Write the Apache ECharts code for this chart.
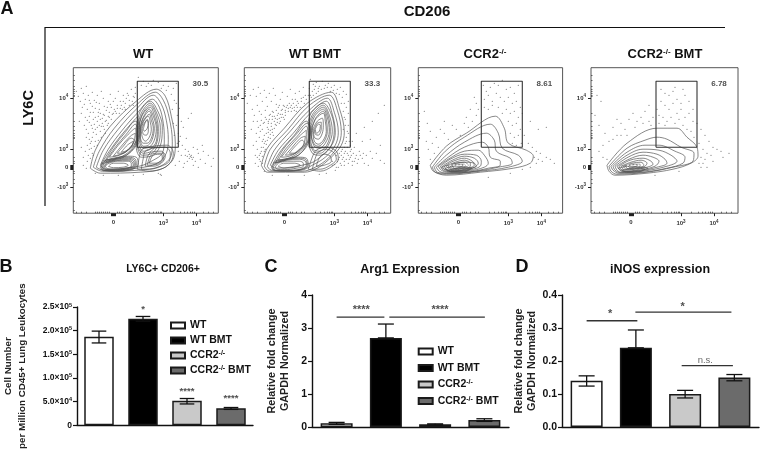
<!DOCTYPE html>
<html>
<head>
<meta charset="utf-8">
<style>html,body{margin:0;padding:0;background:#fff}#main{width:760px;height:451px}</style>
<script src="https://cdn.jsdelivr.net/npm/echarts@6/dist/echarts.min.js"></script>
</head>
<body>
<div id="main"></div>
<script>
// flow panels, all values in display channels (0 = panel left/bottom)
var wtContours = [
  [[17,45],[22,63],[37,87],[63,112],[83,124],[92,117],[98,97],[102,70],[101,57],[90,45],[67,41],[27,40]],
  [[20,46],[26,62],[41,85],[64,109],[82,121],[90,113],[96,95],[99,72],[98,58],[87,47],[65,43],[29,42]],
  [[23,46],[30,63],[45,84],[63,104],[80,118],[88,109],[93,93],[95,74],[93,60],[84,50],[64,45],[30,43]],
  [[27,48],[35,64],[49,83],[63,99],[79,114],[86,106],[90,90],[91,74],[89,60],[80,53],[66,47],[32,44]],
  [[28,49],[36,62],[48,78],[60,92],[64,96],[66,84],[62,68],[52,57],[40,53]],
  [[31,51],[40,66],[52,81],[62,92],[67,84],[64,70],[56,60],[44,55]],
  [[33,53],[42,66],[53,79],[62,89],[64,78],[59,65],[49,57]],
  [[36,56],[45,68],[55,79],[62,85],[63,74],[56,64],[46,58]],
  [[40,57],[48,67],[57,77],[62,80],[60,70],[52,61]],
  [[44,60],[50,67],[58,75],[61,73],[56,65],[49,60]],
  [[48,61],[54,68],[60,72],[58,66],[52,62]],
  [[63,86],[67,102],[77,112],[84,103],[89,87],[88,71],[80,58],[68,56],[63,66]],
  [[64,84],[68,100],[77,110],[83,101],[87,86],[86,72],[79,60],[69,58],[64,68]],
  [[65,84],[69,99],[77,108],[82,100],[85,85],[84,72],[78,62],[70,60],[64,70]],
  [[65,84],[69,98],[77,106],[81,98],[84,85],[83,72],[77,64],[70,62],[65,72]],
  [[66,84],[70,96],[76,104],[80,97],[83,85],[81,73],[76,66],[70,65],[66,74]],
  [[67,85],[70,95],[76,102],[79,95],[81,85],[79,74],[75,68],[70,67],[67,75]],
  [[67,85],[71,94],[76,99],[78,93],[80,85],[78,75],[74,70],[70,70],[67,77]],
  [[68,85],[71,93],[75,97],[77,91],[78,84],[76,76],[72,72],[69,76]],
  [[69,85],[71,90],[74,93],[75,88],[75,82],[73,78],[70,79]],
  [[70,84],[72,91],[74,94],[75,90],[74,85],[71,82]],
  [[27,46],[31,52],[40,55],[55,57],[63,56],[65,49],[58,43.5],[42,42],[30,42.5]],
  [[28,46],[31,52],[41,54.5],[55,56],[62,54],[63,48],[57,43.5],[42,42.2],[30,42.8]],
  [[29,46],[32,51],[42,54],[55,55],[61,53],[62,48],[56,44],[42,42.5],[31,43]],
  [[30,46],[33,50],[42,53],[55,54],[60,52],[61,48],[56,45],[42,43],[32,43.5]],
  [[31,46],[34,50],[43,52.5],[55,53],[59,51],[60,48],[54,45],[41,43.5],[33,44]],
  [[32,47],[36,50],[44,52],[55,52],[58,50],[58,47],[52,45],[40,44],[34,44.5]],
  [[35,47],[40,50],[50,50],[55,48],[50,46],[40,45.5]],
  [[64,44],[66,56],[69,64],[80,67],[94,68],[100,60],[98,52],[90,45],[76,42]],
  [[68,44],[70,55],[72,62],[80,65],[92,66],[97,60],[96,52],[88,47],[76,44]],
  [[72,47],[74,56],[78,61],[88,62],[92,57],[88,50],[80,47]],
  [[74,48],[77,57],[82,60],[90,60],[90,54],[84,49]],
  [[76,50],[80,58],[88,59],[89,54],[82,50]]
];
var wtBmtContours = [
  [[17,48],[23,65],[40,85],[63,110],[87,121],[95,105],[100,81],[97,68],[87,56],[73,45],[60,41],[23,41]],
  [[20,47],[26,64],[43,83],[64,107],[85,118],[93,103],[97,81],[94,68],[84,55],[71,46],[58,42],[25,42]],
  [[23,47],[30,63],[46,82],[65,103],[83,115],[90,101],[94,81],[91,68],[81,56],[68,48],[56,43],[27,43]],
  [[26,48],[34,63],[49,80],[65,99],[82,112],[88,99],[91,81],[88,69],[78,58],[66,50],[32,45]],
  [[29,50],[37,63],[50,78],[62,92],[66,86],[64,70],[54,58],[41,53]],
  [[31,50],[39,64],[52,79],[63,90],[66,82],[62,68],[54,58],[42,54]],
  [[34,53],[42,65],[53,77],[62,87],[64,76],[58,64],[47,56]],
  [[37,56],[45,66],[55,77],[62,83],[62,72],[54,62],[45,57]],
  [[41,58],[48,66],[56,75],[61,77],[59,68],[51,60]],
  [[45,60],[51,67],[58,73],[60,70],[54,63],[49,60]],
  [[64,92],[68,102],[79,110],[87,99],[90,83],[86,66],[76,58],[68,60],[64,74]],
  [[65,90],[69,100],[79,108],[85,98],[88,82],[84,68],[76,60],[69,62],[65,76]],
  [[66,89],[70,99],[79,106],[84,97],[86,82],[83,69],[75,62],[69,64],[66,77]],
  [[67,88],[71,98],[79,104],[83,96],[85,82],[81,70],[75,65],[70,67],[67,78]],
  [[68,87],[72,96],[79,102],[82,94],[83,82],[80,72],[74,67],[70,69],[67,79]],
  [[68,86],[72,95],[79,100],[81,92],[82,82],[79,73],[74,69],[70,72]],
  [[69,85],[73,92],[78,95],[79,88],[78,80],[74,74],[70,76]],
  [[70,84],[73,90],[77,91],[77,85],[74,78],[71,79]],
  [[71,84],[74,89],[76,88],[75,82],[72,80]],
  [[27,46],[31,52],[40,54],[54,56],[62,55],[64,48],[57,43.5],[42,42],[30,42.5]],
  [[28,46],[31,51],[41,53.5],[54,55],[61,54],[63,48],[57,43.8],[42,42.2],[30,42.8]],
  [[29,46],[32,50],[42,53],[55,54],[61,52],[62,48],[56,44],[42,42.5],[31,43]],
  [[31,46],[34,50],[43,52],[55,52],[59,50],[59,47],[52,45],[40,43.5],[33,44]],
  [[34,47],[39,50],[50,50],[56,48],[50,46],[40,45]],
  [[64,44],[68,56],[72,63],[82,66],[92,62],[94,54],[88,47],[76,42]],
  [[68,44],[71,55],[74,61],[82,64],[90,60],[92,54],[86,48],[76,44]],
  [[72,47],[75,55],[80,59],[86,57],[87,52],[80,48]]
];
var ccr2Contours = [
  [[12,48],[28,67],[48,80],[77,97],[86,85],[90,70],[108,63],[115,57],[112,50],[95,45],[62,41],[28,38],[15,42]],
  [[14,46],[27,62],[46,76],[72,89],[80,80],[84,65],[100,58],[104,52],[90,46],[62,42],[28,39],[17,41]],
  [[16,46],[28,58],[46,71],[68,80],[76,73],[78,62],[92,55],[94,50],[80,46],[58,42],[28,40],[19,41]],
  [[18,46],[30,56],[46,66],[64,71],[70,66],[72,56],[82,52],[82,48],[70,45],[50,41],[28,40],[21,42]],
  [[20,47],[30,54],[46,62],[60,63],[66,58],[70,50],[66,46],[50,42],[30,41],[23,43]],
  [[22,47],[32,54],[46,59],[58,58],[63,52],[62,47],[50,43],[32,41.5],[25,43]],
  [[24,47],[34,53],[46,57],[56,55],[60,50],[56,46],[46,43],[32,42],[26,44]],
  [[26,47],[35,52],[46,55],[54,52],[56,48],[50,45],[36,42.5],[28,44]],
  [[28,47],[37,51],[46,53],[52,50],[52,47],[44,44.5],[34,43],[30,45]],
  [[30,47],[38,50],[46,51],[50,48],[44,45],[34,43.5]],
  [[32,47],[40,49],[46,49],[47,47],[40,45],[34,44.5]],
  [[34,47],[40,48.5],[45,48],[42,46],[36,45]],
  [[23,46],[33,49],[46,51],[56,50],[58,47],[48,44],[34,42],[26,44]],
  [[27,45],[38,47],[48,46],[54,45],[46,42.5],[32,41.5]],
  [[30,43],[40,45],[52,44],[46,41.5],[34,41]]
];
var ccr2BmtContours = [
  [[16,48],[36,70],[66,85],[86,85],[96,76],[106,66],[107,57],[100,50],[82,44],[56,40],[24,38],[18,42]],
  [[18,47],[36,65],[54,73],[66,76],[76,74],[90,66],[103,60],[102,52],[82,46],[56,41],[26,39],[20,42]],
  [[20,47],[36,61],[54,68],[68,68],[84,62],[94,56],[92,50],[76,45],[52,41],[28,40],[22,43]],
  [[22,47],[36,58],[52,64],[68,63],[80,58],[86,52],[76,47],[52,42],[30,40.5],[24,43]],
  [[24,47],[37,56],[52,61],[66,59],[74,54],[76,50],[66,46],[48,42],[30,41],[26,43]],
  [[26,47],[38,54],[52,58],[62,56],[68,52],[64,47],[48,43],[32,41.5],[28,44]],
  [[28,47],[39,53],[52,55],[60,52],[62,49],[52,45],[36,42],[30,44]],
  [[30,47],[40,51],[50,53],[56,50],[54,47],[44,44],[34,43]],
  [[32,47],[41,50],[50,51],[53,48],[46,45],[36,43.5]],
  [[34,47],[42,49],[49,49],[49,47],[42,45],[37,44.5]],
  [[37,47],[43,48.5],[47,48],[43,46],[39,45.5]],
  [[27,45],[38,47],[50,46],[57,45],[48,42.5],[34,41.5]],
  [[31,43],[42,45],[54,44],[48,41.5],[36,41]]
];
var wtDots = [
  [3,122],[5,117],[8,125],[7,112],[10,120],[13,127],[12,114],[15,118],[17,110],[9,106],[14,104],[19,121],[21,113],[24,118],[22,105],[26,110],
  [28,122],[30,115],[31,107],[27,100],[33,103],[35,112],[37,119],[38,106],[40,100],[42,115],[44,108],[45,122],[47,112],[49,104],[50,118],[52,110],
  [54,120],[56,113],[58,124],[60,117],[62,126],[16,97],[20,94],[24,92],[12,96],[18,88],[22,84],[26,88],[29,95],[32,92],[35,97],[38,94],
  [15,80],[19,76],[23,79],[27,82],[30,87],[17,70],[21,67],[25,73],[12,62],[15,58],[19,60],[14,52],[10,48],[13,45],[17,55],[8,100],
  [6,92],[11,88],[28,76],[34,88],[41,104],[46,100],[51,106],[36,101],[25,97],[20,101],[16,91],[13,84],[18,72],[16,64],[10,56],[8,66],
  [65,136],[70,132],[75,130],[80,133],[85,131],[90,128],[95,127],[100,125],[103,130],[68,128],[73,127],[78,128],[88,125],[93,123],[98,119],[101,113],
  [103,110],[106,105],[104,98],[108,92],[103,88],[105,80],[110,86],[115,95],[118,100],[113,75],[106,72],[109,68],[112,64],[105,62],[108,58],[115,62],
  [120,66],[125,60],[130,62],[135,58],[140,55],[118,58],[116,55],[119,54],[114,52],[122,52],[111,50],[106,52],[127,54],[132,50],[138,47],[120,48],
  [125,46],[110,46],[102,48],[117,57],[118,56],[116,59],[120,56],[114,57],[112,58],[104,70],[101,78],[100,90],[99,104],[124,64],[129,68],[107,77],
  [85,40],[88,38],[60,38],[45,38],[30,38],[22,40],[87,39],[70,39],
  [22,96],[25,101],[29,90],[31,84],[33,93],[36,96],[39,99],[42,102],[44,105],[48,108],[50,112],[53,115],[56,108],[59,112],[61,116],[24,86],
  [27,94],[30,99],[34,106],[37,109],[40,112],[43,100],[47,105],[52,104],[55,118],[26,104],[23,111],[19,107],[16,113],[11,109],[20,81],[18,65],
  [22,72],[24,68],[20,58],[14,68],[16,74],[13,76],[19,85],[21,89],[17,101],[14,93],[28,87],[32,80],[35,90],[31,98],[62,120],[60,108]
];
var wtBmtDots = [
  [3,110],[6,118],[9,124],[8,104],[12,117],[14,126],[13,108],[16,120],[18,112],[10,98],[15,102],[20,123],[22,116],[25,120],[23,107],[27,112],
  [29,125],[31,118],[32,109],[28,102],[34,106],[36,114],[38,121],[39,108],[41,103],[43,117],[45,110],[46,124],[48,114],[50,106],[51,120],[53,112],
  [55,122],[57,115],[59,126],[61,118],[17,99],[21,96],[25,94],[13,92],[19,90],[23,86],[27,90],[30,97],[33,94],[36,99],[39,96],[16,82],
  [20,78],[24,81],[28,84],[31,89],[18,72],[22,69],[26,75],[13,64],[16,60],[20,62],[15,54],[11,50],[14,47],[18,57],[9,92],[7,84],
  [12,80],[29,78],[35,90],[42,106],[47,102],[52,108],[37,103],[26,99],[21,103],[17,93],[14,86],[19,74],[17,66],[11,58],[9,68],[30,92],
  [33,98],[37,96],[41,98],[44,102],[48,105],[52,102],[56,106],[60,110],[24,90],[28,94],[32,88],[36,92],[40,94],[26,83],[24,76],[21,72],
  [66,134],[69,129],[72,131],[75,127],[78,132],[81,128],[84,130],[87,126],[90,128],[93,124],[96,126],[99,122],[102,119],[70,124],[74,122],[66,118],
  [104,112],[102,106],[104,100],[101,94],[104,88],[103,82],[102,76],[105,72],[101,70],[98,64],[100,60],[95,60],[92,58],[103,66],[106,62],[110,66],
  [112,58],[115,62],[118,55],[122,58],[126,62],[128,55],[132,60],[136,53],[140,50],[110,52],[106,56],[102,54],[98,54],[96,50],[92,46],[108,48],
  [100,48],[104,58],[114,54],[120,50],[124,48],[88,52],[94,54],[97,58],[120,86],[128,92],[134,100],[140,108],[112,80],[118,72],[126,74],[136,68],
  [82,40],[75,39],[60,38],[44,38],[28,38],[20,42],
  [22,94],[25,98],[29,101],[31,95],[34,100],[38,104],[40,107],[43,108],[46,106],[49,110],[51,114],[54,110],[57,112],[59,116],[62,114],[64,118],
  [27,87],[30,85],[33,91],[35,95],[38,99],[41,101],[44,105],[47,108],[50,103],[53,106],[24,84],[22,80],[26,79],[28,81],[20,70],[23,73],
  [19,66],[21,64],[17,62],[15,58],[16,52],[18,50],[13,56],[24,92],[18,84],[15,76],[12,72],[16,88],[20,91],[28,97],[32,103],[35,108],
  [65,125],[68,122],[71,127],[74,125],[77,124],[80,125],[83,126],[86,122],[89,123],[92,120],[95,119],[98,116],[100,110],[67,116],[72,120],[69,118],
  [97,110],[99,102],[100,96],[101,88],[99,84],[102,72],[100,66],[97,62],[99,56],[101,62],[95,56],[93,52],[90,49],[103,60],[105,54],[107,58],
  [109,60],[111,55],[113,50],[116,58],[119,60],[108,52],[104,50],[100,52],[106,68],[108,72],[104,80],[107,64],[94,46],[97,48],[88,48],[91,43]
];
var ccr2Dots = [
  [6,102],[9,90],[12,82],[8,72],[14,70],[18,76],[22,84],[26,80],[30,74],[34,88],[38,84],[42,78],[46,90],[50,86],[54,92],[58,98],
  [16,60],[12,54],[20,66],[10,64],[26,92],[48,96],[52,104],[58,110],[60,104],[56,116],
  [65,128],[68,122],[72,126],[76,130],[80,128],[84,133],[88,124],[92,126],[96,120],[100,128],[66,114],[70,118],[74,112],[78,120],[82,116],[86,112],[90,116],[94,110],[98,112],[102,106],
  [66,106],[70,104],[74,108],[80,106],[84,100],[88,104],[92,100],[96,102],[100,96],[90,92],[94,88],[98,90],[102,84],[92,80],[96,76],[100,78],[103,70],[94,70],[98,68],
  [104,100],[112,92],[120,84],[128,86],[106,78],[110,70],[114,66],[118,62],[122,60],[116,56],[120,54],[124,52],[128,56],[132,54],[136,50],[118,50],[112,46],
  [70,36],[92,40],[104,44]
];
var ccr2BmtDots = [
  [6,118],[10,112],[4,98],[8,88],[14,80],[18,72],[12,68],[22,86],[26,94],[30,90],[34,84],[38,94],[42,100],[46,92],[50,96],[54,102],
  [58,108],[44,86],[30,78],[22,74],[8,62],[12,56],[16,54],[58,92],[62,96],[60,88],[52,90],[26,78],[36,78],
  [70,124],[74,120],[78,118],[82,122],[86,114],[90,110],[94,118],[98,112],[70,112],[74,108],[78,104],[82,110],[86,100],[90,104],[94,96],[98,100],
  [102,92],[68,98],[72,96],[76,92],[80,96],[84,90],[88,94],[92,88],[96,84],[100,82],[103,76],[68,90],[74,88],[102,104],[66,104],[84,126],[92,124],
  [106,90],[110,84],[114,78],[118,72],[122,66],[108,70],[112,64],[116,60],[120,58],[126,64],[130,62],[110,56],[114,54],[108,50],[110,46],[112,50],[116,46],[122,52],[132,56],[138,60],
  [64,38],[88,42]
];
// white ridge of the densest contour
var peakStreaks = [[[34,48],[52,48]], [[35,48],[52,48]], [[31,48],[50,48]], [[36,48],[54,48]]];
var flowPercents = ['30.5', '33.3', '8.61', '6.78'];
var gateBoxes = [[64,105,66,132], [65,106,66,132], [63,104,66,132], [65,106,66,132]];
var flowXTickLabels = {40:'{a|0}', 90:'{a|10}{s|3}', 123:'{a|10}{s|4}'};
var flowYTickLabels = {26:'{a|-10}{s|3}', 46:'{a|0}', 64:'{a|10}{s|3}', 115:'{a|10}{s|4}'};
var flowXMajor = [38,39,40,41,42,90,123];
var flowYMajor = [26,44,45,46,47,48,64,115];
var flowXMinor = [3,8,13,22,24,26,28,30,32,34,36,44,46,48,52,57,60,71,76,80,83,85,87,88,100,107,111,114,117,119,121,130,135,140];
var flowYMinor = [3,12,30,34,40,42,50,52,56,75,76,78,80,83,87,92,100,117,118,120,122,124,127,133,138];

// bar panels
var groups = ['WT', 'WT BMT', 'CCR2-/-', 'CCR2-/- BMT'];
var cellValues = [187000, 225000, 51700, 35800];
var cellLow = [174000, 220000, 45000, 33500];
var cellHigh = [199000, 230000, 56500, 37500];
var cellTicks = {0:'{a|0}', 50000:'{a|5.0×10}{s|4}', 100000:'{a|1.0×10}{s|5}', 150000:'{a|1.5×10}{s|5}', 200000:'{a|2.0×10}{s|5}', 250000:'{a|2.5×10}{s|5}'};
var cellStars = [[1,246000,'*'], [2,72000,'****'], [3,56500,'****']];
var argValues = [0.11, 2.7, 0.08, 0.21];
var argLow = [0.08, 2.7, 0.065, 0.17];
var argHigh = [0.14, 3.12, 0.095, 0.25];
var argLines = [[0,0.97,3.33], [1.07,3.01,3.33]];
var argStars = [[0.5,3.54,'****'], [2.1,3.54,'****']];
var inosValues = [0.14, 0.24, 0.10, 0.15];
var inosLow = [0.124, 0.24, 0.088, 0.14];
var inosHigh = [0.155, 0.294, 0.111, 0.159];
var inosLines = [[0,1.03,0.322], [0.99,2.94,0.348], [1.93,2.97,0.186]];
var inosStars = [[0.48,0.342,'*'], [1.95,0.365,'*']];
var inosNs = [[2.41,0.201,'n.s.']];
var barColors = ['#ffffff', '#000000', '#c9c9c9', '#6b6b6b'];

var font = 'Liberation Sans';
var grid = [], xAxis = [], yAxis = [], series = [];

function flowPanel(i, left, width, contours, dots) {
  var g = grid.length;
  grid.push({left:left, top:67.7, width:width, height:145.5, show:true, borderColor:'#555', borderWidth:1});
  var labelRich = {a:{fontFamily:font, fontSize:6, fontWeight:'bold', color:'#333'}, s:{fontFamily:font, fontSize:4.5, fontWeight:'bold', color:'#333', padding:[0,0,4,0]}};
  xAxis.push({gridIndex:g, type:'value', min:0, max:width, splitLine:{show:false}, axisLine:{show:false},
    axisTick:{customValues:flowXMajor, length:3, lineStyle:{color:'#222', width:1}},
    axisLabel:{customValues:[40,90,123], margin:6, formatter:function(v){return flowXTickLabels[v];}, rich:labelRich}});
  xAxis.push({gridIndex:g, type:'value', min:0, max:width, splitLine:{show:false}, axisLine:{show:false}, axisLabel:{show:false},
    axisTick:{customValues:flowXMinor, length:1.5, lineStyle:{color:'#444', width:0.8}}});
  yAxis.push({gridIndex:g, type:'value', min:0, max:145.5, splitLine:{show:false}, axisLine:{show:false},
    axisTick:{customValues:flowYMajor, length:3, lineStyle:{color:'#222', width:1}},
    axisLabel:{customValues:[26,46,64,115], margin:5, formatter:function(v){return flowYTickLabels[v];}, rich:labelRich}});
  yAxis.push({gridIndex:g, type:'value', min:0, max:145.5, splitLine:{show:false}, axisLine:{show:false}, axisLabel:{show:false},
    axisTick:{customValues:flowYMinor, length:1.5, lineStyle:{color:'#444', width:0.8}}});
  var xi = xAxis.length - 2, yi = yAxis.length - 2;
  series.push({type:'scatter', xAxisIndex:xi, yAxisIndex:yi, data:dots, symbolSize:1.1, itemStyle:{color:'#333'}, silent:true, z:1});
  contours.forEach(function(c) {
    series.push({type:'line', xAxisIndex:xi, yAxisIndex:yi, data:c.concat([c[0]]), smooth:0.35, symbol:'none',
      lineStyle:{color:'#555', width:0.7}, silent:true, z:2});
  });
  series.push({type:'line', xAxisIndex:xi, yAxisIndex:yi, data:peakStreaks[i], symbol:'none', silent:true, z:2,
    lineStyle:{color:'#fff', width:1.2, type:[2,1.5]}});
  var b = gateBoxes[i];
  series.push({type:'line', xAxisIndex:xi, yAxisIndex:yi, symbol:'none', silent:true, z:3,
    data:[[b[0],b[2]],[b[1],b[2]],[b[1],b[3]],[b[0],b[3]],[b[0],b[2]]], lineStyle:{color:'#333', width:1.1}});
  series.push({type:'scatter', xAxisIndex:xi, yAxisIndex:yi, symbolSize:0, silent:true, z:4, data:[[b[1]+22,129,flowPercents[i]]],
    label:{show:true, position:'inside', formatter:function(p){return p.value[2];}, fontFamily:font, fontSize:8, fontWeight:'bold', color:'#222'}});
}

function barPanel(o) {
  var g = grid.length;
  grid.push({left:o.left, top:o.top, width:o.width, height:o.height});
  xAxis.push({gridIndex:g, type:'category', data:groups, axisLabel:{show:false},
    axisLine:{lineStyle:{color:'#111', width:1.4}}, axisTick:{alignWithLabel:true, length:4, lineStyle:{color:'#111', width:1.2}}});
  xAxis.push({gridIndex:g, type:'value', min:-0.5, max:3.5, show:false});
  yAxis.push({gridIndex:g, type:'value', min:0, max:o.max, interval:o.interval, splitLine:{show:false},
    axisLine:{show:true, onZero:false, lineStyle:{color:'#111', width:1.4}}, axisTick:{show:true, length:4, lineStyle:{color:'#111', width:1.2}},
    axisLabel:{margin:5, formatter:o.tickFormat, fontFamily:font, fontSize:o.tickSize, fontWeight:'bold', color:'#111', rich:o.tickRich},
    name:o.yName, nameLocation:'middle', nameGap:o.nameGap, nameRotate:90,
    nameTextStyle:{fontFamily:font, fontSize:o.nameSize, fontWeight:'bold', color:'#222', lineHeight:o.nameLine, align:'center'}});
  var xi = xAxis.length - 2, yi = yAxis.length - 1;
  groups.forEach(function(name, k) {
    series.push({name:name, type:'bar', xAxisIndex:xi, yAxisIndex:yi, stack:'s' + g, barWidth:o.barWidth, silent:true,
      data:o.values.map(function(v, j) { return j === k ? v : null; }),
      itemStyle:{color:barColors[k], borderColor:'#1a1a1a', borderWidth:1.5}});
  });
  series.push({type:'custom', xAxisIndex:xi + 1, yAxisIndex:yi, silent:true, z:5,
    data:o.values.map(function(v, j) { return [j, o.low[j], o.high[j]]; }), encode:{x:0, y:[1,2]},
    renderItem:function(params, api) {
      var a = api.coord([api.value(0), api.value(1)]), b = api.coord([api.value(0), api.value(2)]);
      var st = {stroke:'#111', lineWidth:1.3, fill:null}, w = o.cap;
      return {type:'group', children:[
        {type:'line', shape:{x1:a[0], y1:a[1], x2:b[0], y2:b[1]}, style:st},
        {type:'line', shape:{x1:a[0]-w, y1:a[1], x2:a[0]+w, y2:a[1]}, style:st},
        {type:'line', shape:{x1:b[0]-w, y1:b[1], x2:b[0]+w, y2:b[1]}, style:st}
      ]};
    }});
  (o.lines || []).forEach(function(l) {
    series.push({type:'line', xAxisIndex:xi + 1, yAxisIndex:yi, symbol:'none', silent:true, z:5,
      data:[[l[0],l[2]],[l[1],l[2]]], lineStyle:{color:'#333', width:1.4}});
  });
  series.push({type:'scatter', xAxisIndex:xi + 1, yAxisIndex:yi, symbolSize:0, silent:true, z:6, data:o.stars,
    label:{show:true, position:'inside', formatter:function(p){return p.value[2];}, fontFamily:font, fontSize:o.starSize, fontWeight:'bold', color:'#222'}});
  if (o.ns) {
    series.push({type:'scatter', xAxisIndex:xi + 1, yAxisIndex:yi, symbolSize:0, silent:true, z:6, data:o.ns,
      label:{show:true, position:'inside', formatter:function(p){return p.value[2];}, fontFamily:font, fontSize:9.5, color:'#444'}});
  }
}

flowPanel(0, 73.3, 145, wtContours, wtDots);
flowPanel(1, 244.3, 146.4, wtBmtContours, wtBmtDots);
flowPanel(2, 418.3, 144.3, ccr2Contours, ccr2Dots);
flowPanel(3, 591, 147, ccr2BmtContours, ccr2BmtDots);

var bRich = {a:{fontFamily:font, fontSize:8.5, fontWeight:'bold', color:'#111'}, s:{fontFamily:font, fontSize:5.5, fontWeight:'bold', color:'#111', padding:[0,0,4,0]}};
barPanel({left:73, top:307, width:180, height:121, max:250000, interval:50000, values:cellValues, low:cellLow, high:cellHigh, barWidth:29.5, cap:7.3,
  tickFormat:function(v){return cellTicks[v];}, tickRich:bRich, tickSize:8.5, stars:cellStars, starSize:9.5,
  yName:'Cell Number\nper Million CD45+ Lung Leukocytes', nameGap:48, nameSize:9.8, nameLine:14});
barPanel({left:312, top:295, width:197, height:132, max:4, interval:1, values:argValues, low:argLow, high:argHigh, barWidth:32, cap:8,
  tickSize:10.5, lines:argLines, stars:argStars, starSize:11,
  yName:'Relative fold change\nGAPDH Normalized', nameGap:20, nameSize:10.8, nameLine:13});
barPanel({left:562, top:295, width:197, height:132, max:0.4, interval:0.1, values:inosValues, low:inosLow, high:inosHigh, barWidth:32, cap:8,
  tickFormat:function(v){return v.toFixed(1);}, tickSize:10.5, lines:inosLines, stars:inosStars, starSize:11, ns:inosNs,
  yName:'Relative fold change\nGAPDH Normalized', nameGap:21, nameSize:10.8, nameLine:13});

function legendFor(left, top, gap) {
  return {left:left, top:top, padding:0, orient:'vertical', icon:'rect', itemWidth:14, itemHeight:6, itemGap:gap, selectedMode:false, data:groups,
    formatter:function(n) {
      if (n === 'CCR2-/-') return '{a|CCR2}{s|-/-}';
      if (n === 'CCR2-/- BMT') return '{a|CCR2}{s|-/-}{a| BMT}';
      return '{a|' + n + '}';
    },
    textStyle:{rich:{a:{fontFamily:font, fontSize:10.5, fontWeight:'bold', color:'#111'}, s:{fontFamily:font, fontSize:7, fontWeight:'bold', color:'#111', padding:[0,0,4,0]}}}};
}

function label(text, x, y, size) {
  return {text:text, left:x, top:y, textAlign:'center', padding:0,
    textStyle:{fontFamily:font, fontSize:size, fontWeight:'bold', color:'#111',
      rich:{a:{fontFamily:font, fontSize:size, fontWeight:'bold', color:'#111'}, s:{fontFamily:font, fontSize:size*0.62, fontWeight:'bold', color:'#111', padding:[0,0,5,0]}}}};
}

var option = {
  animation:false,
  backgroundColor:'#fff',
  title:[
    label('A', 7, 0, 18), label('B', 6, 258, 18), label('C', 271, 258, 18), label('D', 522, 258, 18),
    label('CD206', 427, 4, 15),
    label('WT', 143, 48, 13), label('WT BMT', 315, 48, 13),
    label('{a|CCR2}{s|-/-}', 485, 48, 13), label('{a|CCR2}{s|-/-}{a| BMT}', 665, 48, 13),
    label('LY6C+ CD206+', 163, 264, 10.5), label('Arg1 Expression', 410, 263, 12.5), label('iNOS expression', 660, 263, 12.5)
  ],
  legend:[legendFor(170, 320, 4), legendFor(417.7, 346, 5.5)],
  grid:grid, xAxis:xAxis, yAxis:yAxis, series:series,
  graphic:[
    {type:'polyline', shape:{points:[[45,206],[45,27.5],[725,27.5]]}, style:{stroke:'#111', lineWidth:1.2, fill:null}},
    {type:'text', x:29, y:108, rotation:Math.PI/2, style:{text:'LY6C', fontFamily:font, fontSize:14.5, fontWeight:'bold', fill:'#111', align:'center', verticalAlign:'middle'}}
  ]
};
echarts.init(document.getElementById('main'), null, {renderer:'canvas'}).setOption(option);
</script>
</body>
</html>
